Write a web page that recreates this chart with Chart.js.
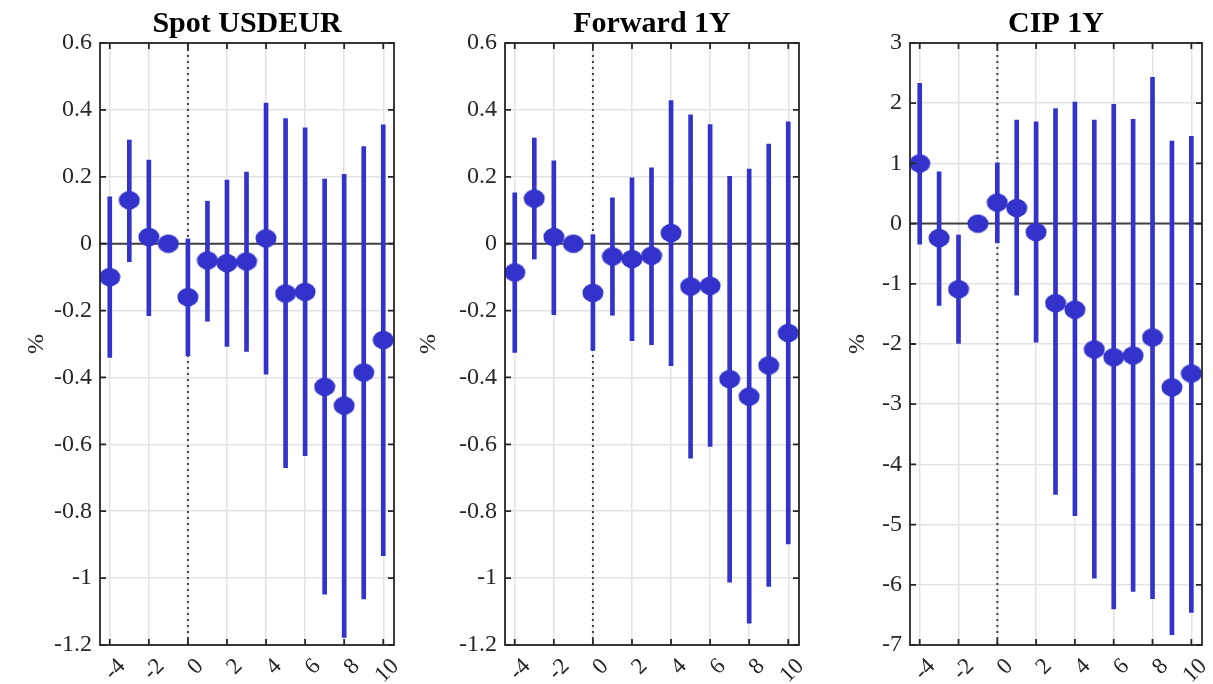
<!DOCTYPE html>
<html lang="en">
<head>
<meta charset="UTF-8">
<title>Spot, forward and CIP responses</title>
<script src="https://cdn.jsdelivr.net/npm/chart.js"></script>
<style>
  body { margin: 0; background: #fff; width: 1213px; height: 684px; position: relative; overflow: hidden; }
  .panel { position: absolute; top: 0; height: 684px; }
</style>
</head>
<body>
<div class="panel" style="left:0"><canvas id="spot" width="405" height="684"></canvas></div>
<div class="panel" style="left:405px"><canvas id="fwd" width="405" height="684"></canvas></div>
<div class="panel" style="left:810px"><canvas id="cip" width="403" height="684"></canvas></div>

<script>
// horizons (x axis) and the even ones that get a label
const horizons = [-4, -3, -2, -1, 0, 1, 2, 3, 4, 5, 6, 7, 8, 9, 10];
const xTicks = [-4, -2, 0, 2, 4, 6, 8, 10];

// Spot USDEUR: point estimate and band
const spotMid  = [-0.10, 0.13, 0.02, 0, -0.16, -0.05, -0.058, -0.053, 0.016, -0.149, -0.144, -0.428, -0.484, -0.385, -0.288];
const spotLow  = [-0.34, -0.054, -0.215, 0, -0.335, -0.232, -0.307, -0.322, -0.39, -0.67, -0.634, -1.048, -1.177, -1.062, -0.933];
const spotHigh = [0.14, 0.31, 0.25, 0, 0.014, 0.127, 0.19, 0.214, 0.42, 0.374, 0.346, 0.193, 0.207, 0.29, 0.355];

// Forward 1Y
const fwdMid  = [-0.086, 0.135, 0.02, 0, -0.147, -0.038, -0.046, -0.036, 0.032, -0.128, -0.126, -0.405, -0.457, -0.364, -0.267];
const fwdLow  = [-0.325, -0.046, -0.212, 0, -0.319, -0.214, -0.29, -0.302, -0.365, -0.641, -0.606, -1.012, -1.135, -1.025, -0.898];
const fwdHigh = [0.152, 0.316, 0.248, 0, 0.027, 0.137, 0.197, 0.227, 0.428, 0.385, 0.356, 0.201, 0.223, 0.298, 0.364];

// CIP 1Y
const cipMid  = [1.0, -0.24, -1.09, 0, 0.35, 0.26, -0.14, -1.32, -1.43, -2.09, -2.22, -2.19, -1.89, -2.72, -2.49];
const cipLow  = [-0.34, -1.36, -1.99, 0, -0.32, -1.19, -1.97, -4.50, -4.85, -5.89, -6.40, -6.11, -6.23, -6.83, -6.46];
const cipHigh = [2.33, 0.86, -0.19, 0, 1.01, 1.72, 1.69, 1.91, 2.02, 1.72, 1.98, 1.73, 2.43, 1.37, 1.45];

// y ticks
const pctTicks = [-1.2, -1, -0.8, -0.6, -0.4, -0.2, 0, 0.2, 0.4, 0.6];
const pctTickLabels = ['-1.2', '-1', '-0.8', '-0.6', '-0.4', '-0.2', '0', '0.2', '0.4', '0.6'];
const cipTicks = [-7, -6, -5, -4, -3, -2, -1, 0, 1, 2, 3];
const cipTickLabels = ['-7', '-6', '-5', '-4', '-3', '-2', '-1', '0', '1', '2', '3'];

const BLUE = '#3333cc';
const INK = '#262626';
const FONT = '"Liberation Serif", "Times New Roman", serif';

// filled ellipse used as point marker
function ellipseMarker() {
    const c = document.createElement('canvas');
    c.width = 22; c.height = 20;
    const g = c.getContext('2d');
    g.fillStyle = BLUE;
    g.beginPath();
    g.ellipse(11, 10, 10.5, 9.3, 0, 0, Math.PI * 2);
    g.fill();
    return c;
}
const marker = ellipseMarker();

// box around the plot with inward tick marks on all four sides
const framePlugin = {
    id: 'frame',
    afterDraw(chart) {
        const { ctx, chartArea: a, scales } = chart;
        ctx.save();
        ctx.strokeStyle = INK;
        ctx.lineWidth = 1.8;
        ctx.strokeRect(a.left, a.top, a.right - a.left, a.bottom - a.top);
        ctx.beginPath();
        scales.x.ticks.forEach(t => {
            const px = scales.x.getPixelForValue(t.value);
            ctx.moveTo(px, a.bottom); ctx.lineTo(px, a.bottom - 6);
            ctx.moveTo(px, a.top); ctx.lineTo(px, a.top + 6);
        });
        scales.y.ticks.forEach(t => {
            const py = scales.y.getPixelForValue(t.value);
            ctx.moveTo(a.left, py); ctx.lineTo(a.left + 6, py);
            ctx.moveTo(a.right, py); ctx.lineTo(a.right - 6, py);
        });
        ctx.stroke();
        ctx.restore();
    }
};

function makePanel(id, title, mid, low, high, yTicks, yLabels, pctPad, rightPad) {
    const yMin = yTicks[0], yMax = yTicks[yTicks.length - 1];
    const xMin = -4.5, xMax = 10.55;
    new Chart(document.getElementById(id), {
        type: 'bar',
        data: {
            datasets: [
                {
                    type: 'scatter',
                    data: horizons.map((h, i) => ({ x: h, y: mid[i] })),
                    pointStyle: marker,
                    pointRadius: 10,
                    order: 0
                },
                {
                    type: 'bar',
                    data: horizons.map((h, i) => ({ x: h, y: [low[i], high[i]] })),
                    backgroundColor: BLUE,
                    borderWidth: 0,
                    barThickness: 4,
                    order: 1
                },
                {
                    type: 'line',
                    data: [{ x: xMin, y: 0 }, { x: xMax, y: 0 }],
                    borderColor: '#404040',
                    borderWidth: 2,
                    pointRadius: 0,
                    order: 2
                },
                {
                    type: 'line',
                    data: [{ x: 0, y: yMin }, { x: 0, y: yMax }],
                    borderColor: '#404040',
                    borderWidth: 2,
                    borderDash: [2, 4],
                    pointRadius: 0,
                    order: 2
                }
            ]
        },
        options: {
            responsive: false,
            animation: false,
            layout: { padding: { left: 0, right: rightPad, top: 0, bottom: 0 } },
            scales: {
                x: {
                    type: 'linear',
                    min: xMin,
                    max: xMax,
                    offset: false,
                    afterBuildTicks: s => { s.ticks = xTicks.map(v => ({ value: v })); },
                    afterFit: s => { s.height = 39; s.paddingLeft = 0; s.paddingRight = 0; },
                    grid: { color: '#e3e3e3', lineWidth: 1.5, drawTicks: false, offset: false },
                    border: { display: false },
                    ticks: {
                        autoSkip: false,
                        minRotation: 45,
                        maxRotation: 45,
                        padding: 8,
                        labelOffset: 12,
                        color: INK,
                        font: { family: FONT, size: 23 },
                        callback: v => String(v)
                    }
                },
                y: {
                    min: yMin,
                    max: yMax,
                    afterBuildTicks: s => { s.ticks = yTicks.map(v => ({ value: v })); },
                    afterFit: s => { s.width = 100; },
                    grid: { color: '#e3e3e3', lineWidth: 1.5, drawTicks: false },
                    border: { display: false },
                    ticks: {
                        padding: 8,
                        color: INK,
                        font: { family: FONT, size: 24 },
                        callback: (v, i) => yLabels[i]
                    },
                    title: {
                        display: true,
                        text: '%',
                        color: INK,
                        font: { family: FONT, size: 24 },
                        padding: { top: pctPad, bottom: 0 }
                    }
                }
            },
            plugins: {
                legend: { display: false },
                tooltip: { enabled: false },
                title: {
                    display: true,
                    text: title,
                    fullSize: false,
                    color: '#000',
                    font: { family: FONT, size: 30, weight: 'bold' },
                    padding: { top: 6, bottom: 1 }
                }
            }
        },
        plugins: [framePlugin]
    });
}

makePanel('spot', 'Spot USDEUR', spotMid, spotLow, spotHigh, pctTicks, pctTickLabels, 22, 11);
makePanel('fwd', 'Forward 1Y', fwdMid, fwdLow, fwdHigh, pctTicks, pctTickLabels, 9, 11);
makePanel('cip', 'CIP 1Y', cipMid, cipLow, cipHigh, cipTicks, cipTickLabels, 33, 9);
</script>
</body>
</html>
